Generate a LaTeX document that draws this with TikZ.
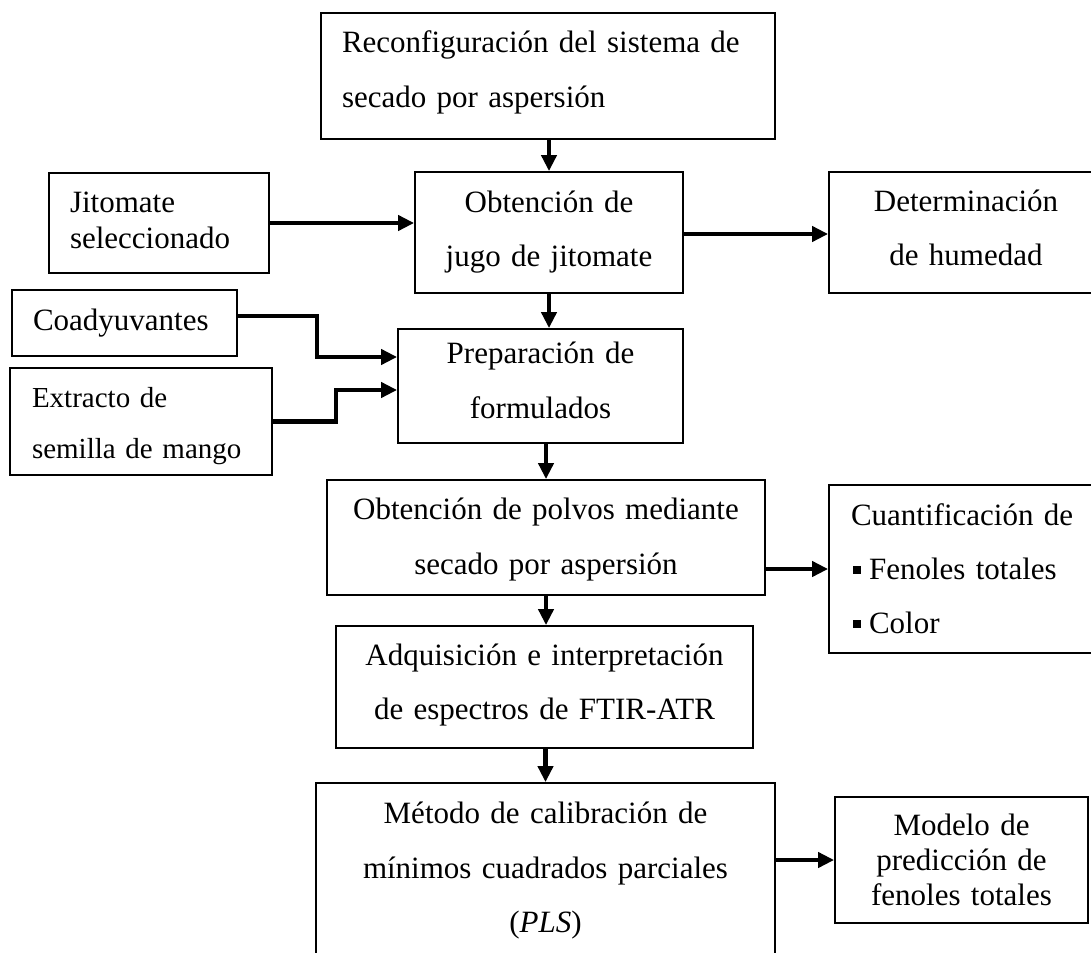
\documentclass[tikz,border=0pt]{standalone}
\usepackage{fontspec}
\setmainfont{Liberation Serif}
\usetikzlibrary{arrows.meta}

% strut pair: height of the first line and depth of the last line
\newcommand{\topstr}[1]{\rule{0pt}{#1pt}}
\newcommand{\botstr}[1]{\rule[-#1pt]{0pt}{#1pt}}
\newcommand{\sqbullet}{\hspace{2pt}\rule[5pt]{8pt}{8pt}\hspace{8pt}}

\tikzset{
  stage/.style={draw, line width=1.8pt, rectangle, inner ysep=0pt,
    font=\fontsize{31}{54.5}\selectfont},
  sgl/.style={font=\fontsize{31}{36}\selectfont},
  arr/.style={line width=4.2pt, -{Triangle[length=16pt,width=15pt]}}
}

\begin{document}
\begin{tikzpicture}[x=1pt,y=-1pt]
\useasboundingbox (0,0) rectangle (1091,952);

% main process column
\node[stage, minimum width=454pt, minimum height=126pt, inner xsep=21pt,
      text width=412pt, align=left] (A) at (548,76)
  {\topstr{26}Reconfiguración del sistema de\\secado por aspersión\botstr{18}};
\node[stage, minimum width=268pt, minimum height=121pt, inner xsep=10pt,
      text width=248pt, align=center] (B) at (549,232.5)
  {\topstr{26}Obtención de\\jugo de jitomate\botstr{12}};
\node[stage, minimum width=285pt, minimum height=114pt, inner xsep=10pt,
      text width=265pt, align=center] (P) at (540.5,386)
  {\topstr{26}Preparación de\\formulados\botstr{16}};
\node[stage, minimum width=438pt, minimum height=115pt, inner xsep=10pt,
      text width=418pt, align=center] (O) at (546,537.5)
  {\topstr{27}Obtención de polvos mediante\\secado por aspersión\botstr{8}};
\node[stage, minimum width=417pt, minimum height=122pt, inner xsep=10pt,
      text width=397pt, align=center] (F) at (544.5,687)
  {\topstr{26}Adquisición e interpretación\\de espectros de FTIR-ATR\botstr{15}};
\node[stage, minimum width=459pt, minimum height=177pt, inner xsep=10pt,
      text width=439pt, align=center] (M) at (545.5,871.5)
  {\topstr{26}Método de calibración de\\mínimos cuadrados parciales\\(\textit{PLS})\botstr{13}};

% inputs on the left
\node[stage, sgl, minimum width=220pt, minimum height=100pt, inner xsep=21pt,
      text width=178pt, align=left] (J) at (159,223)
  {\topstr{26}Jitomate\\seleccionado\botstr{12}};
\node[stage, minimum width=225pt, minimum height=66pt, inner xsep=21pt,
      text width=183pt, align=left] (C) at (124.5,323)
  {\topstr{26}Coadyuvantes\botstr{12}};
\node[stage, font=\fontsize{29}{51}\selectfont, minimum width=262pt,
      minimum height=107pt, inner xsep=22pt, text width=218pt, align=left]
  (E) at (141,421.5)
  {\topstr{31}Extracto de\\semilla de mango\botstr{8}};

% outputs on the right
\node[stage, minimum width=274pt, minimum height=121pt, inner xsep=10pt,
      text width=254pt, align=center] (D) at (966,232.5)
  {\topstr{26}Determinación\\de humedad\botstr{14}};
\node[stage, font=\fontsize{31}{54}\selectfont, minimum width=274pt,
      minimum height=168pt, inner xsep=22pt, text width=230pt, align=left]
  (Q) at (966,569)
  {\topstr{28}Cuantificación de\\\sqbullet Fenoles totales\\\sqbullet Color\botstr{8}};
\node[stage, font=\fontsize{31}{35}\selectfont, minimum width=253pt,
      minimum height=126pt, inner xsep=10pt, text width=233pt, align=center]
  (Mod) at (961.5,860)
  {\topstr{28}Modelo de\\predicción de\\fenoles totales\botstr{8}};

% vertical flow
\draw[arr] (A.south -| B.north) -- (B.north);
\draw[arr] (B.south) -- (B.south |- P.north);
\draw[arr] (O.north |- P.south) -- (O.north);
\draw[arr] (O.south) -- (O.south |- F.north);
\draw[arr] (M.north |- F.south) -- (M.north);

% side connections
\draw[arr] (J.east) -- (J.east -| B.west);
\draw[arr] ([yshift=-1.5pt]B.east) -- ([yshift=-1.5pt]B.east -| D.west);
\draw[arr] ([yshift=7pt]C.east) -- ++(79,0) |- ([yshift=29pt]P.west);
\draw[arr] (E.east) -- ++(63,0) |- ([yshift=-4pt]P.west);
\draw[arr] ([yshift=-31.5pt]O.east) -- ([yshift=-31.5pt]O.east -| Q.west);
\draw[arr] (Mod.west -| M.east) -- (Mod.west);
\end{tikzpicture}
\end{document}
